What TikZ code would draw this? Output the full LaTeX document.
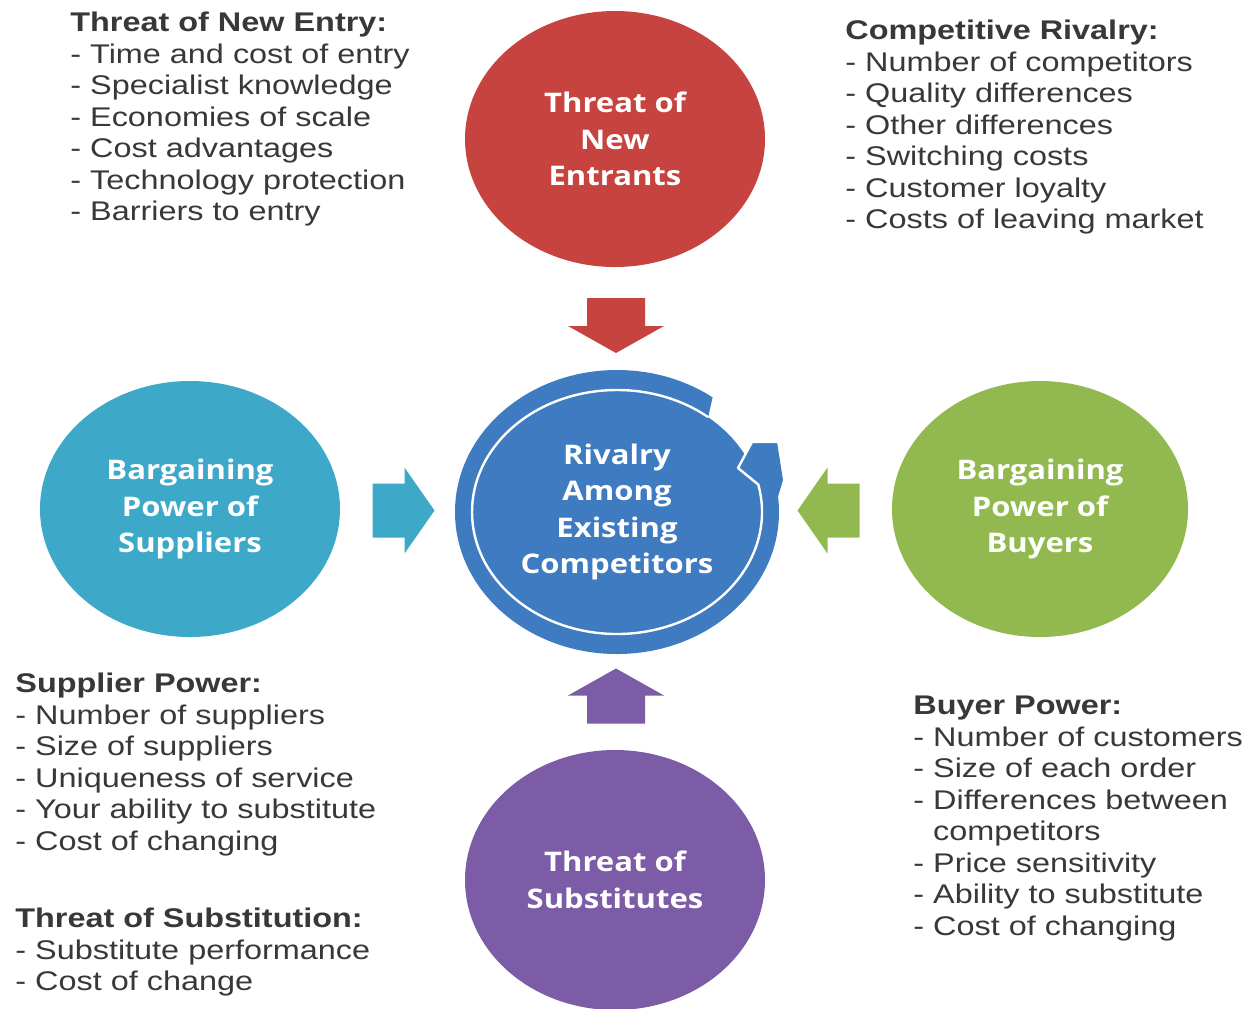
\documentclass[tikz,border=0pt]{standalone}
\usepackage{fontspec}
\setmainfont{Liberation Sans}[FakeStretch=1.2]
\newfontfamily\circfont{Open Sans}[FakeStretch=1.15]
\usetikzlibrary{shapes.geometric,calc}
\definecolor{entred}{HTML}{C7433F}
\definecolor{rivblue}{HTML}{3E7BC1}
\definecolor{supteal}{HTML}{3EA8C9}
\definecolor{buygreen}{HTML}{92B94F}
\definecolor{subpurple}{HTML}{7C5CA6}
\definecolor{listgray}{HTML}{383838}

\begin{document}
\begin{tikzpicture}[x=0.5pt,y=-0.5pt]
  \tikzset{forcecirc/.style = {ellipse,draw=none,minimum width=150pt,minimum height=128pt,inner sep=0pt,
      text=white,align=center,font=\circfont\bfseries\fontsize{13.5}{18.3}\selectfont}}
  \tikzset{factorlist/.style = {anchor=north west,inner sep=0pt,align=left,text=listgray,
      font=\fontsize{13.5}{15.75}\selectfont}}
  \tikzset{pics/blockarrow/.style n args = {4}{code={
      \fill (-#1/2,-#3) -- (#1/2-#2,-#3) -- (#1/2-#2,-#4) -- (#1/2,0)
        -- (#1/2-#2,#4) -- (#1/2-#2,#3) -- (-#1/2,#3) -- cycle;}}}

\useasboundingbox[fill=white] (0,0) rectangle (1245,1008);

% the five forces
\node[forcecirc,fill=entred] (ent) at (615,139) {Threat of\\New\\Entrants};
\node[forcecirc,fill=supteal] (sup) at (190,509) {Bargaining\\Power of\\Suppliers};
\node[forcecirc,fill=buygreen,minimum width=148pt] (buy) at (1040,509) {Bargaining\\Power of\\Buyers};
\node[forcecirc,fill=subpurple,minimum height=130pt] (sub) at (615,880) {Threat of\\Substitutes};
\node[forcecirc,fill=rivblue,minimum width=162pt,minimum height=142pt] (riv) at (617,512)
  {Rivalry\\Among\\Existing\\Competitors};

% circular arrow inside the rivalry circle
\begin{scope}[shift={(riv.center)}]
  \fill[white] (-12:145 and 122) arc[start angle=-12,end angle=-51,x radius=145,y radius=122]
    -- (-55:170 and 150) arc[start angle=-55,end angle=-12,x radius=170,y radius=150] -- cycle;
  \fill[rivblue] (139,-12) -- (121,-44) -- (135,-70) -- (160,-70) -- (166,-32) -- (160,-12) -- cycle;
  \draw[white,line width=1.2pt,line join=round] (-51:145 and 122)
    arc[start angle=-51,end angle=-373,x radius=145,y radius=122]
    -- (121,-44) -- (135,-70) -- (160,-70);
\end{scope}

% block arrows towards the centre
\pic[fill=entred,rotate=-90] at ($(ent)!0.5!(riv)$) {blockarrow={55}{27}{29}{48}};
\pic[fill=subpurple,rotate=90] at ($(sub)!0.5!(riv)$) {blockarrow={55}{27}{29}{48}};
\pic[fill=supteal] at ($(sup)!0.5!(riv)$) {blockarrow={62}{30}{27}{43}};
\pic[fill=buygreen,rotate=180] at ($(buy)!0.5!(riv)$) {blockarrow={62}{30}{27}{43}};

% factor lists
\node[factorlist] (entlist) at (70,12) {\textbf{Threat of New Entry:}\\- Time and cost of entry\\
  - Specialist knowledge\\- Economies of scale\\- Cost advantages\\
  - Technology protection\\- Barriers to entry};
\node[factorlist] (rivlist) at (845,20) {\textbf{Competitive Rivalry:}\\- Number of competitors\\
  - Quality differences\\- Other differences\\- Switching costs\\
  - Customer loyalty\\- Costs of leaving market};
\node[factorlist] (suplist) at (15,673) {\textbf{Supplier Power:}\\- Number of suppliers\\
  - Size of suppliers\\- Uniqueness of service\\- Your ability to substitute\\
  - Cost of changing};
\node[factorlist] (sublist) at (15,908) {\textbf{Threat of Substitution:}\\- Substitute performance\\
  - Cost of change};
\node[factorlist] (buylist) at (913,696) {\textbf{Buyer Power:}\\- Number of customers\\
  - Size of each order\\- Differences between\\\phantom{- }competitors\\- Price sensitivity\\
  - Ability to substitute\\- Cost of changing};

\end{tikzpicture}
\end{document}
